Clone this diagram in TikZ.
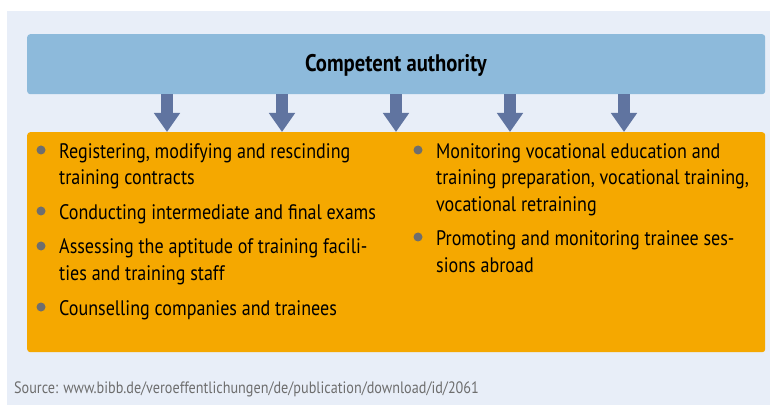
\documentclass[tikz,border=0pt]{standalone}
\usepackage{fontspec}
\setmainfont{PT Sans}[FakeStretch=0.86]
\usetikzlibrary{arrows.meta}
\definecolor{bgblue}{HTML}{E8EEF8}
\definecolor{authblue}{HTML}{8DBADB}
\definecolor{arrowblue}{HTML}{6074A0}
\definecolor{taskorange}{HTML}{F5A800}
\definecolor{bulletgrey}{HTML}{6E6E6E}
\tikzset{
  itemtext/.style={anchor=base west, inner sep=0pt, font=\fontsize{21}{24}\selectfont, text=black},
  bulletdot/.style={circle, fill=bulletgrey, minimum size=9pt, inner sep=0pt},
  bigarrow/.style={draw=arrowblue, line width=12pt, -{Triangle[width=25pt,length=19pt]}},
}
\begin{document}
\begin{tikzpicture}[x=1pt,y=-1pt]
\useasboundingbox (0,0) rectangle (779,406);
\fill[bgblue] (7,11) rectangle (770,405);
\node[fill=authblue, rounded corners=3pt, minimum width=738pt, minimum height=60pt, anchor=north west] (auth) at (27,34) {};
\node[anchor=base, inner sep=0pt, font=\fontsize{24}{26}\selectfont\bfseries] (authtext) at (396,72) {Competent authority};
\node[fill=taskorange, rounded corners=3pt, minimum width=738pt, minimum height=220pt, anchor=north west, inner sep=0pt] (tasks) at (27,132) {};
\foreach \i/\x in {1/167,2/282,3/396,4/510,5/624}{
  \coordinate (ax\i) at (\x,0);
  \draw[bigarrow] (auth.south -| ax\i) -- (tasks.north -| ax\i);
}
% left column
\node[bulletdot] (b1) at (41,150) {};
\node[itemtext] (t1a) at (59,159) {Registering, modifying and rescinding};
\node[itemtext] (t1b) at (59,185) {training contracts};
\node[bulletdot] (b2) at (41,211) {};
\node[itemtext] (t2) at (59,219) {Conducting intermediate and final exams};
\node[bulletdot] (b3) at (41,246) {};
\node[itemtext] (t3a) at (59,254) {Assessing the aptitude of training facili-};
\node[itemtext] (t3b) at (59,280) {ties and training staff};
\node[bulletdot] (b4) at (41,307) {};
\node[itemtext] (t4) at (59,315) {Counselling companies and trainees};
% right column
\node[bulletdot] (b5) at (418,150) {};
\node[itemtext] (t5a) at (436,159) {Monitoring vocational education and};
\node[itemtext] (t5b) at (436,185) {training preparation, vocational training,};
\node[itemtext] (t5c) at (436,212) {vocational retraining};
\node[bulletdot] (b6) at (418,237) {};
\node[itemtext] (t6a) at (436,245) {Promoting and monitoring trainee ses-};
\node[itemtext] (t6b) at (436,272) {sions abroad};
% source
\node[anchor=base west, inner sep=0pt, text=bulletgrey, font=\fontsize{16.5}{18}\selectfont] (src) at (14,393) {Source: www.bibb.de/veroeffentlichungen/de/publication/download/id/2061};
\end{tikzpicture}
\end{document}
